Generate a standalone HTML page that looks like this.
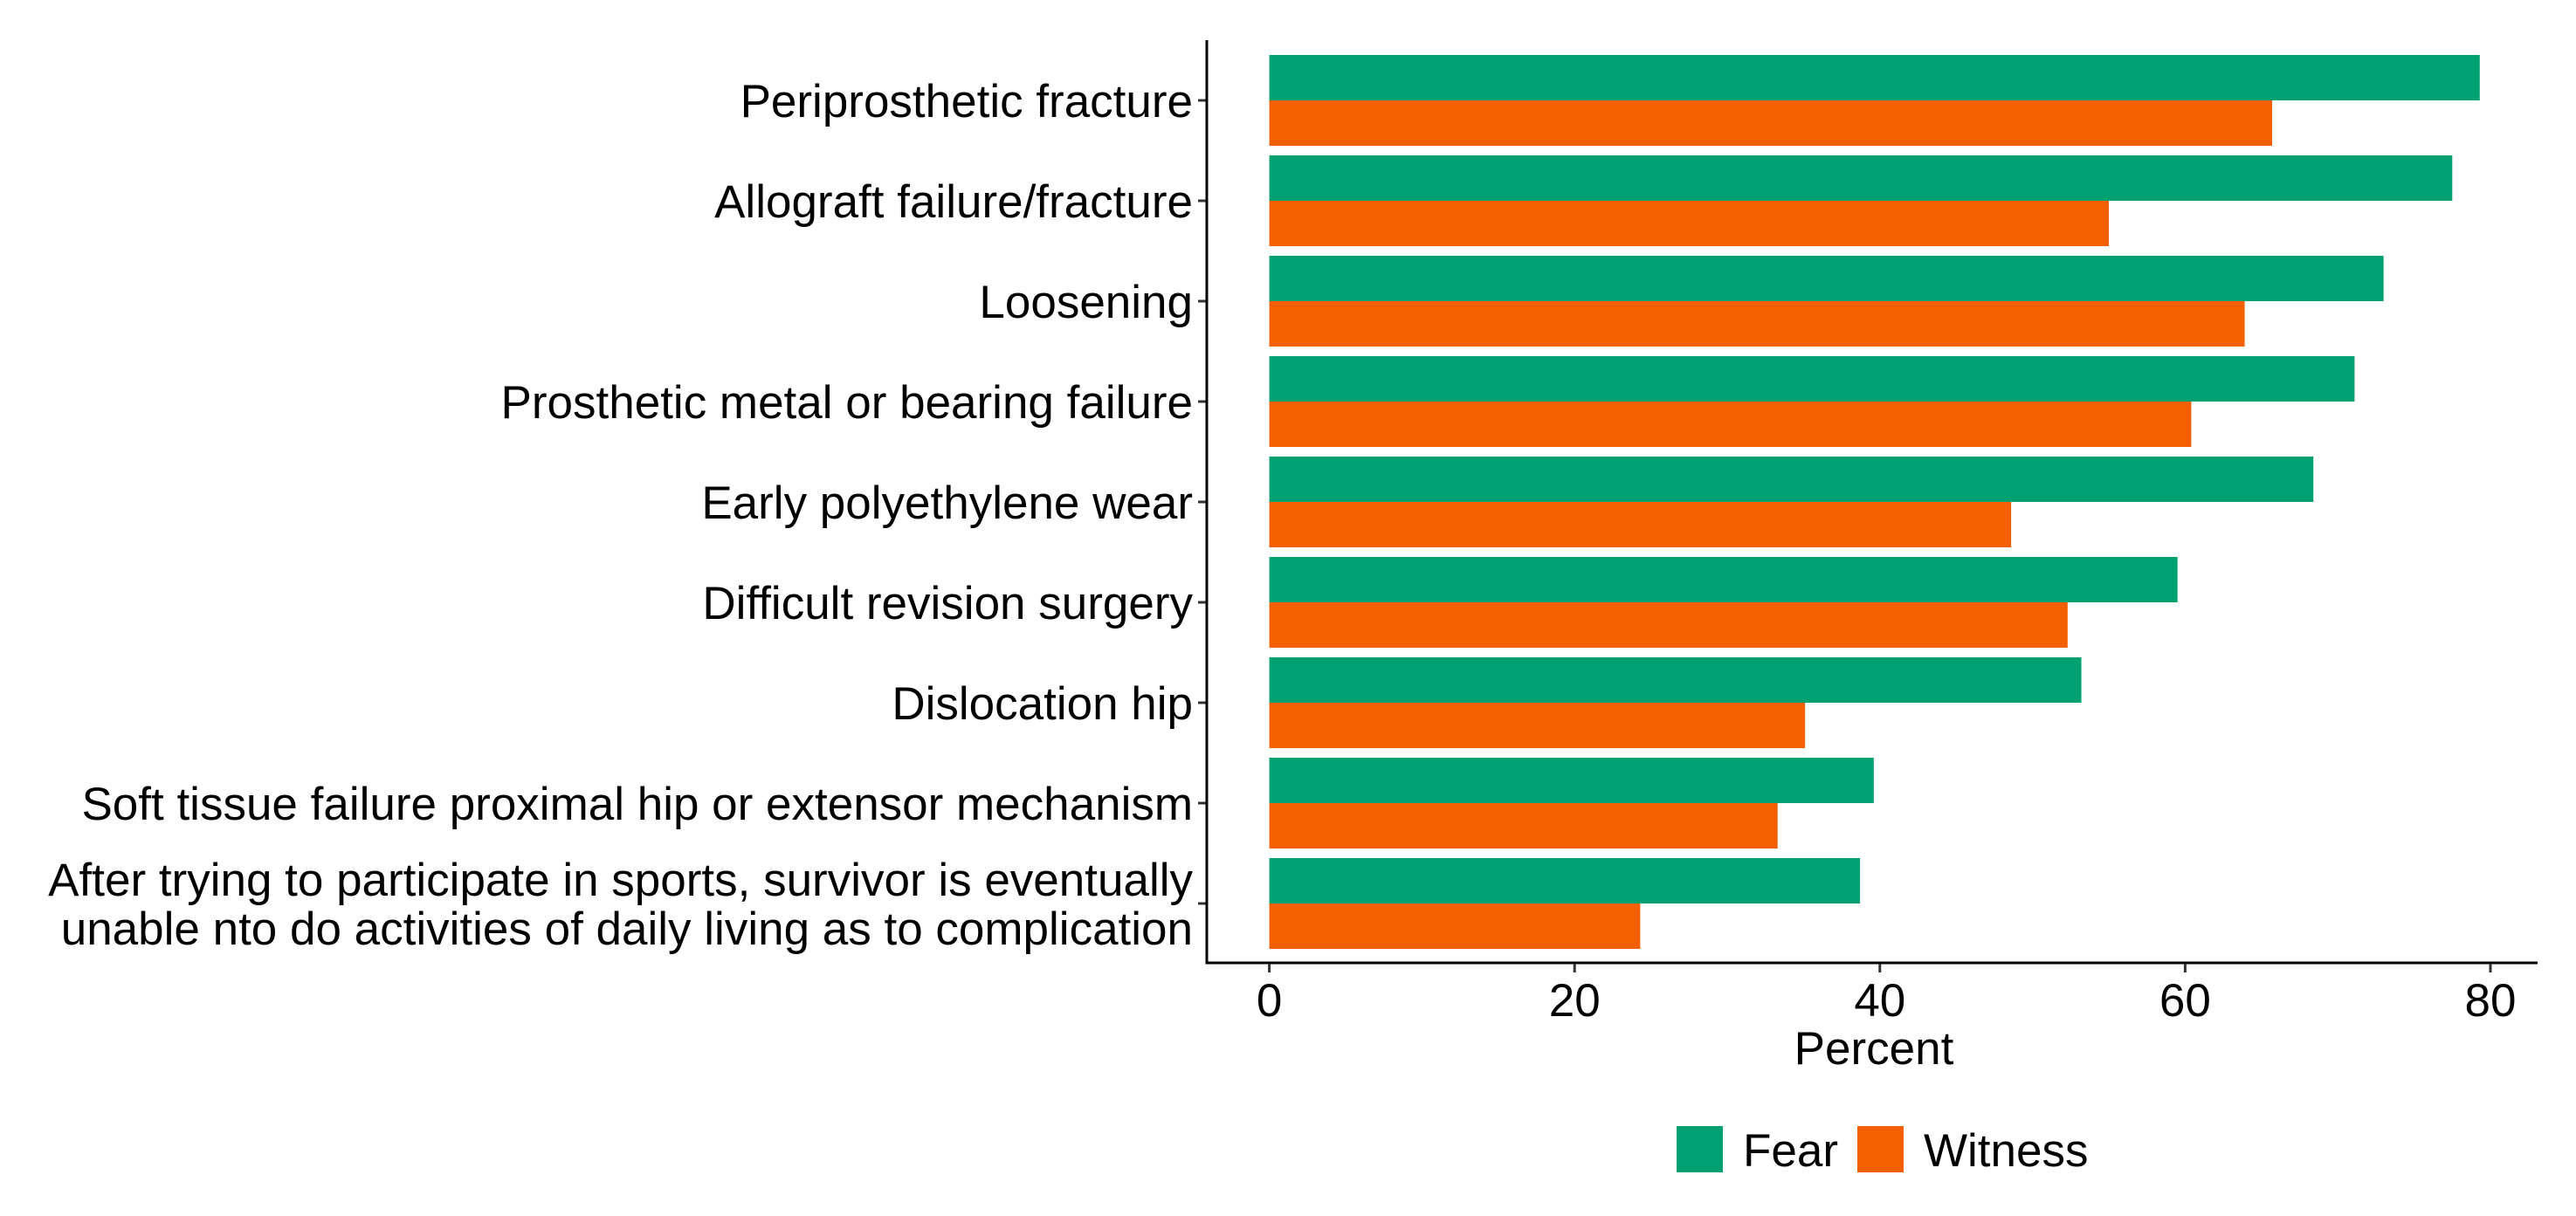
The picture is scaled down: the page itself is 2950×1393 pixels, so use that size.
<!DOCTYPE html>
<html><head><meta charset="utf-8"><style>
html,body{margin:0;padding:0;background:#fff;}
svg{display:block;font-family:"Liberation Sans",Arial,sans-serif;}
</style></head><body>
<svg id="chart" width="2950" height="1393" viewBox="0 0 2950 1393" xmlns="http://www.w3.org/2000/svg"></svg>
<script>
const categories = [
  ["Periprosthetic fracture"],
  ["Allograft failure/fracture"],
  ["Loosening"],
  ["Prosthetic metal or bearing failure"],
  ["Early polyethylene wear"],
  ["Difficult revision surgery"],
  ["Dislocation hip"],
  ["Soft tissue failure proximal hip or extensor mechanism"],
  ["After trying to participate in sports, survivor is eventually","unable nto do activities of daily living as to complication"]
];
const fearValues = [79.3, 77.5, 73.0, 71.1, 68.4, 59.5, 53.2, 39.6, 38.7];
const witnessValues = [65.7, 55.0, 63.9, 60.4, 48.6, 52.3, 35.1, 33.3, 24.3];
const xTicks = [0, 20, 40, 60, 80];
const seriesNames = ["Fear", "Witness"];

const NS = "http://www.w3.org/2000/svg";
const svg = document.getElementById("chart");
const colors = ["#00A171", "#F45F00"];
const x0 = 1453.6, pxPerUnit = 17.48;
const xScale = v => x0 + v * pxPerUnit;
const bandTop = 63, bandPitch = 115, barH = 52;
const yScale = i => bandTop + i * bandPitch;
const FS = 53;
function mk(tag, attrs, parent) {
  const e = document.createElementNS(NS, tag);
  for (const k in attrs) e.setAttribute(k, attrs[k]);
  (parent || svg).appendChild(e);
  return e;
}
const barsG = mk("g", {});


categories.forEach((c, i) => {
  const y = yScale(i);
  const f = mk("rect", {x: xScale(0), y: y, width: xScale(fearValues[i]) - xScale(0), height: barH, fill: colors[0]}, barsG);
  
  
  const w = mk("rect", {x: xScale(0), y: y + barH, width: xScale(witnessValues[i]) - xScale(0), height: barH, fill: colors[1]}, barsG);
  
  
  const cy = y + barH;
  const tk = mk("line", {x1: 1372, x2: 1382, y1: cy, y2: cy, stroke: "#333", "stroke-width": 3});
  
  
  const t = mk("text", {x: 1366, y: cy, "text-anchor": "end", "font-size": FS, fill: "#000"});
  
  
  if (c.length === 1) {
    t.setAttribute("dy", "19");
    t.textContent = c[0];
  } else {
    c.forEach((line, j) => {
      const ts = mk("tspan", {x: 1366, y: cy + 19 + (j - 0.5) * 56}, t);
      ts.textContent = line;
    });
  }
});
const ya = mk("line", {x1: 1382, x2: 1382, y1: 46, y2: 1104, stroke: "#000", "stroke-width": 3});


const xa = mk("line", {x1: 1380.5, x2: 2906, y1: 1103, y2: 1103, stroke: "#000", "stroke-width": 3});


xTicks.forEach(v => {
  const l = mk("line", {x1: xScale(v), x2: xScale(v), y1: 1104, y2: 1114, stroke: "#333", "stroke-width": 3});
  
  
  const t = mk("text", {x: xScale(v), y: 1164, "text-anchor": "middle", "font-size": FS, fill: "#000"});
  
  
  t.textContent = v;
});
const xt = mk("text", {x: 2146, y: 1219, "text-anchor": "middle", "font-size": FS, fill: "#000"});


xt.textContent = "Percent";
const legKeyX = [1920, 2127], legTextX = [1996, 2203];
seriesNames.forEach((n, i) => {
  const r = mk("rect", {x: legKeyX[i], y: 1290, width: 53, height: 53, fill: colors[i]});
  
  
  const t = mk("text", {x: legTextX[i], y: 1336, "font-size": FS, fill: "#000"});
  
  
  t.textContent = n;
});
</script>
</body></html>
